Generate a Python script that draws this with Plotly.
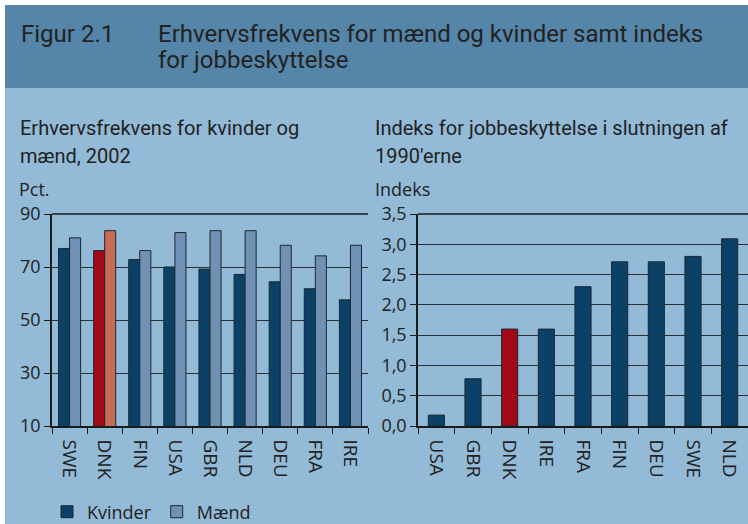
import plotly.graph_objects as go

# ---- data ----
left_cats = ["SWE", "DNK", "FIN", "USA", "GBR", "NLD", "DEU", "FRA", "IRE"]
kvinder = [77.0, 76.2, 72.8, 70.0, 69.2, 67.2, 64.4, 61.8, 57.6]
maend = [81.0, 83.7, 76.2, 83.0, 83.7, 83.7, 78.2, 74.2, 78.2]

right_cats = ["USA", "GBR", "DNK", "IRE", "FRA", "FIN", "DEU", "SWE", "NLD"]
indeks = [0.18, 0.78, 1.60, 1.60, 2.30, 2.71, 2.71, 2.80, 3.09]

left_yticks = [10, 30, 50, 70, 90]
right_yticks = [0.0, 0.5, 1.0, 1.5, 2.0, 2.5, 3.0, 3.5]

# ---- styles ----
W, H = 748, 524
NAVY = "#0b4166"
GREYBLUE = "#7191b4"
RED = "#a20818"
SALMON = "#c86a55"
BG = "#93bad6"
HEAD = "#5585a8"
TXT = "#222222"
COND = "Roboto, Liberation Sans, sans-serif"
SANS = "Open Sans, Noto Sans, sans-serif"

def px(x):
    return x / W

def py(y):
    return 1 - y / H

k_colors = [RED if c == "DNK" else NAVY for c in left_cats]
m_colors = [SALMON if c == "DNK" else GREYBLUE for c in left_cats]
r_colors = [RED if c == "DNK" else NAVY for c in right_cats]

fig = go.Figure()
fig.add_trace(go.Bar(x=left_cats, y=kvinder, name="Kvinder",
                     marker=dict(color=k_colors, line=dict(color="#1b2833", width=1)),
                     xaxis="x", yaxis="y"))
fig.add_trace(go.Bar(x=left_cats, y=maend, name="Mænd",
                     marker=dict(color=m_colors, line=dict(color="#1b2833", width=1)),
                     xaxis="x", yaxis="y"))
fig.add_trace(go.Bar(x=right_cats, y=indeks, name="Indeks", showlegend=False,
                     marker=dict(color=r_colors, line=dict(color="#1b2833", width=1)),
                     xaxis="x2", yaxis="y2", width=0.44))

ydom = [py(426), py(214)]
axis_common = dict(showline=True, linecolor="#1a1a1a", linewidth=1.5, mirror=False, automargin=False)
yfont = dict(family=SANS, size=18, color=TXT)
xfont = dict(family=SANS, size=19, color=TXT)
fig.update_layout(
    width=W, height=H,
    margin=dict(l=0, r=0, t=0, b=0, autoexpand=False),
    paper_bgcolor="white",
    plot_bgcolor="rgba(0,0,0,0)",
    separators=",.",
    barmode="group",
    bargap=0.37,
    bargroupgap=0,
    showlegend=True,
    legend=dict(orientation="h", x=px(47), y=py(512), xanchor="left", yanchor="middle",
                font=dict(family=SANS, size=18, color=TXT), bgcolor="rgba(0,0,0,0)",
                traceorder="normal"),
    xaxis=dict(domain=[px(52), px(368)], anchor="y", type="category",
               tickangle=90, ticks="outside", tickson="boundaries", ticklen=6,
               tickcolor="#1a1a1a", showgrid=False, ticklabelstandoff=8,
               tickfont=xfont, **axis_common),
    yaxis=dict(domain=ydom, anchor="x", range=[10, 90], tickvals=left_yticks,
               ticks="outside", ticklen=6, tickcolor="#1a1a1a", tickfont=yfont,
               showgrid=True, gridcolor="#2a2f33", gridwidth=1.2, zeroline=False, **axis_common),
    xaxis2=dict(domain=[px(418), px(748)], anchor="y2", type="category",
                tickangle=90, ticks="outside", tickson="boundaries", ticklen=6,
                tickcolor="#1a1a1a", showgrid=False, ticklabelstandoff=8,
                tickfont=xfont, **axis_common),
    yaxis2=dict(domain=ydom, anchor="x2", range=[0, 3.5], tickvals=right_yticks,
                tickformat=".1f", ticks="outside", ticklen=6, tickcolor="#1a1a1a", tickfont=yfont,
                showgrid=True, gridcolor="#2a2f33", gridwidth=1.2, zeroline=False, **axis_common),
)

# background panels
fig.add_shape(type="rect", xref="paper", yref="paper", x0=px(5), x1=1, y0=0, y1=py(88),
              fillcolor=BG, line_width=0, layer="below")
fig.add_shape(type="rect", xref="paper", yref="paper", x0=px(5), x1=1, y0=py(88), y1=py(5),
              fillcolor=HEAD, line_width=0, layer="below")
# top border lines of plots
fig.add_shape(type="line", xref="paper", yref="paper", x0=px(52), x1=px(368), y0=py(214), y1=py(214),
              line=dict(color="#1a1a1a", width=1.5))
fig.add_shape(type="line", xref="paper", yref="paper", x0=px(418), x1=1, y0=py(214), y1=py(214),
              line=dict(color="#1a1a1a", width=1.5))

def ann(text, x, y, size, family, xanchor="left"):
    fig.add_annotation(text=text, x=px(x), y=py(y), xref="paper", yref="paper",
                       xanchor=xanchor, yanchor="middle", showarrow=False, align="left",
                       xshift=-1, font=dict(family=family, size=size, color=TXT))

ann("Figur 2.1", 20, 34, 24, COND)
ann("Erhvervsfrekvens for mænd og kvinder samt indeks", 157, 34, 24, COND)
ann("for jobbeskyttelse", 157, 60, 24, COND)
ann("Erhvervsfrekvens for kvinder og", 19, 128, 20, COND)
ann("mænd, 2002", 19, 156, 20, COND)
ann("Indeks for jobbeskyttelse i slutningen af", 374, 128, 20, COND)
ann("1990'erne", 374, 156, 20, COND)
ann("Pct.", 18, 189, 18, SANS)
ann("Indeks", 374, 189, 18, SANS)

fig.write_html("out.html", config={"displayModeBar": False},
               post_script="document.body.style.margin='0';")
